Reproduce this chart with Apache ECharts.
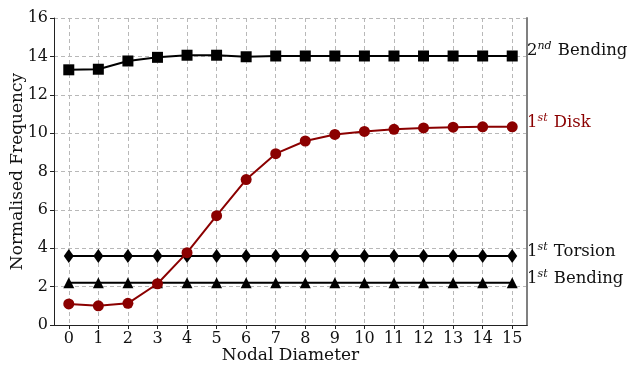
<!DOCTYPE html>
<html><head><meta charset="utf-8">
<script src="https://cdn.jsdelivr.net/npm/echarts@6/dist/echarts.min.js"></script>
<style>html,body{margin:0;padding:0;background:#fff}#c{width:630px;height:366px}</style>
</head><body><div id="c"></div>
<script>
var categories = ['0','1','2','3','4','5','6','7','8','9','10','11','12','13','14','15'];
var bending2 = [13.3,13.33,13.76,13.95,14.06,14.06,13.98,14.02,14.02,14.02,14.02,14.02,14.02,14.02,14.02,14.02];
var disk1 = [1.1,1.0,1.13,2.15,3.77,5.7,7.58,8.93,9.59,9.93,10.09,10.2,10.27,10.31,10.33,10.33];
var torsion1 = [3.6,3.6,3.6,3.6,3.6,3.6,3.6,3.6,3.6,3.6,3.6,3.6,3.6,3.6,3.6,3.6];
var bending1 = [2.2,2.2,2.2,2.2,2.2,2.2,2.2,2.2,2.2,2.2,2.2,2.2,2.2,2.2,2.2,2.2];
var yTicks = {min:0, max:16, interval:2};

var F = 'DejaVu Serif';
var chart = echarts.init(document.getElementById('c'), null, {renderer:'canvas'});
var dashed = {show:true, lineStyle:{color:'#b8b8b8', type:[4,3], width:1}};
function lab(x,y,base,supTxt,rest,color){
  return {type:'text', left:x, top:y, style:{
    text:'{n|'+base+'}{s|'+supTxt+'}{n| '+rest+'}', rich:{
      n:{fontFamily:F, fontSize:16.5, fill:color, color:color, lineHeight:20},
      s:{fontFamily:F, fontSize:11, fontStyle:'italic', fill:color, color:color, lineHeight:20, padding:[0,1,9,0]}
    }, fill:color}};
}
var option = {
  animation:false,
  grid:{left:54, right:103, top:18, bottom:41, containLabel:false, outerBoundsMode:'none'},
  xAxis:[{
    type:'category', data:categories, boundaryGap:true,
    name:'Nodal Diameter', nameLocation:'middle', nameGap:22, nameMoveOverlap:false,
    nameTextStyle:{fontFamily:F, fontSize:17, color:'#111'},
    axisLine:{show:true, lineStyle:{color:'#222', width:1}},
    axisTick:{show:true, alignWithLabel:true, length:4, lineStyle:{color:'#222'}},
    axisLabel:{fontFamily:F, fontSize:16, color:'#111', margin:6, interval:0},
    splitLine:{show:true, alignWithLabel:true, interval:0, lineStyle:{color:'#b8b8b8', type:[4,3], width:1}}
  },{
    type:'category', data:categories, position:'top', boundaryGap:true,
    axisLine:{show:true, lineStyle:{color:'#222', width:1}},
    axisTick:{show:false}, axisLabel:{show:false}, splitLine:{show:false}
  }],
  yAxis:[{
    type:'value', min:yTicks.min, max:yTicks.max, interval:yTicks.interval,
    name:'Normalised Frequency', nameLocation:'middle', nameGap:28, nameMoveOverlap:false,
    nameTextStyle:{fontFamily:F, fontSize:17, color:'#111'},
    axisLine:{show:true, lineStyle:{color:'#222', width:1}},
    axisTick:{show:true, length:4, lineStyle:{color:'#222'}},
    axisLabel:{fontFamily:F, fontSize:16, color:'#111', margin:6},
    splitLine:dashed
  },{
    type:'value', min:yTicks.min, max:yTicks.max, interval:yTicks.interval, position:'right',
    axisLine:{show:true, lineStyle:{color:'#808080', width:2}},
    axisTick:{show:false}, axisLabel:{show:false}, splitLine:{show:false}
  }],
  series:[
    {type:'line', data:bending1, symbol:'triangle', symbolSize:11, itemStyle:{color:'#000'}, lineStyle:{color:'#000', width:2}, z:3},
    {type:'line', data:torsion1, symbol:'diamond', symbolSize:[10,14], itemStyle:{color:'#000'}, lineStyle:{color:'#000', width:2}, z:3},
    {type:'line', data:disk1, symbol:'circle', symbolSize:11, itemStyle:{color:'#8b0000'}, lineStyle:{color:'#8b0000', width:2}, z:4},
    {type:'line', data:bending2, symbol:'rect', symbolSize:11, itemStyle:{color:'#000'}, lineStyle:{color:'#000', width:2}, z:3}
  ],
  graphic:[
    lab(527,41,'2','nd','Bending','#111'),
    lab(527,113,'1','st','Disk','#8b0000'),
    lab(527,242,'1','st','Torsion','#111'),
    lab(527,269,'1','st','Bending','#111')
  ]
};
chart.setOption(option);
</script></body></html>
